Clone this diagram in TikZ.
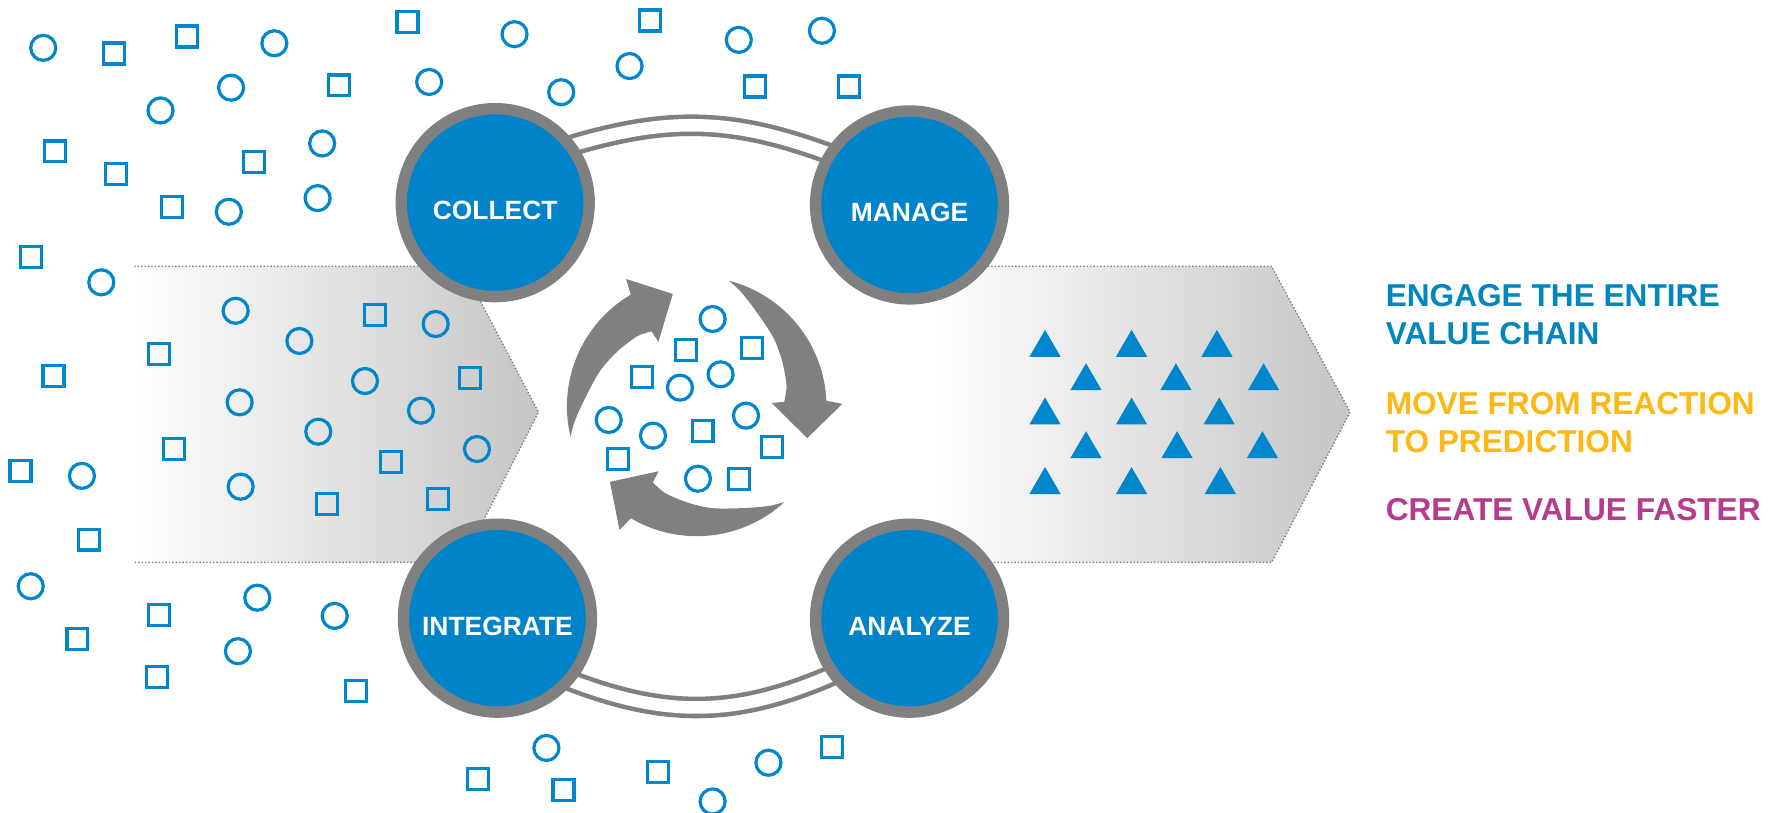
\documentclass[tikz,border=0pt]{standalone}
\usepackage{fontspec}
\setmainfont{Liberation Sans}
\usepackage{tikz}
\usetikzlibrary{shapes.geometric,backgrounds}

\definecolor{ringGray}{RGB}{128,128,128}
\definecolor{stageBlue}{RGB}{0,131,200}
\definecolor{dotBlue}{RGB}{0,134,204}
\definecolor{bandGray}{RGB}{197,197,197}
\definecolor{txtBlue}{RGB}{2,134,190}
\definecolor{txtYellow}{RGB}{253,184,19}
\definecolor{txtMagenta}{RGB}{181,59,142}

\begin{document}
\begin{tikzpicture}[x=0.01cm, y=-0.01cm,
    stage/.style={circle, draw=ringGray, line width=0.1cm, fill=stageBlue, minimum size=1.65cm,
        inner sep=0pt, text height=0.31cm, text depth=0.013cm, text=white,
        font=\fontsize{6.6}{8}\selectfont\bfseries},
    link/.style={draw=ringGray, line width=0.04cm, double=white, double distance=0.11cm,
        shorten <=-0.12cm, shorten >=-0.12cm},
    band/.style={left color=white, right color=bandGray},
    bandEdge/.style={draw=ringGray, line width=0.35pt, dash pattern=on 0.35pt off 0.5pt},
    dot/.style={draw=dotBlue, line width=0.028cm},
    goal/.style={anchor=base west, align=left, inner sep=0pt, font=\fontsize{7.9}{9.6}\selectfont\bfseries},
    cyclearrow/.pic={
        \fill[ringGray, y=0.01cm] (193.6:114) arc[start angle=193.6, end angle=120.5, radius=114]
            -- (119:128) -- (102:101) -- (120.6:66)
            -- plot[smooth] coordinates {(121:77) (131:81) (146:85) (160:90.5) (176:98.5) (187:108) (193.6:114)}
            -- cycle;
    }]
    \useasboundingbox (0,0) rectangle (1568,714);

    % grey bands
    \shade[band] (118,234) -- (406,234) -- (473,362) -- (406,494) -- (118,494) -- cycle;
    \draw[bandEdge] (118,234) -- (406,234) -- (473,362) -- (406,494) -- (118,494);
    \shade[band] (820,234) -- (1117,234) -- (1186,362) -- (1117,494) -- (820,494) -- cycle;
    \draw[bandEdge] (820,234) -- (1117,234) -- (1186,362) -- (1117,494) -- (820,494);

    \node[stage] (collect) at (435,178) {COLLECT};
    \node[stage] (manage) at (799,180) {MANAGE};
    \node[stage] (integrate) at (437,543) {INTEGRATE};
    \node[stage] (analyze) at (799,543) {ANALYZE};

    \begin{scope}[on background layer]
        \draw[link] (collect.36) to[bend left=19] (manage.148);
        \draw[link] (integrate.-40) to[bend right=23] (analyze.216);
    \end{scope}

    % scattered data
    \foreach \x/\y in {38/42, 241/38, 452/30, 649/35, 722/27, 553/58, 493/81, 203/77, 377/72,
        141/97, 283/126, 201/186, 279/174, 89/248, 72/418, 27/515, 226/525, 294/541, 209/572,
        480/657, 675/670, 626/704,
        207/273, 263/299.5, 382.7/284.6, 320.6/334.7, 210.5/353.4, 369.8/360.7, 279.6/379.2,
        419/394.4, 211.4/427.5,
        626/280.2, 597.3/340.5, 633/328.8, 534.7/368.9, 573.6/382.7, 655.3/365.1, 613.1/420.5}
        \draw[dot] (\x,\y) circle[radius=11];
    \foreach \x/\y in {100/47, 164/32, 358/19, 571/18, 663/76, 746/76, 298/75, 48/133, 102/153,
        223/142, 151/182, 27/226, 47/330, 18/414, 78/474, 140/540, 68/561, 138/595, 313/607,
        731/656, 578/678, 420/684, 495/694,
        329.4/276.7, 139.7/310.7, 412.6/331.8, 152.6/394.4, 343.5/405.8, 287.2/443, 384.5/438.3,
        602.3/307.4, 660.6/306, 563.7/330.9, 617.2/378.6, 678.4/392.9, 542.6/403.2, 649.2/421}
        \draw[dot] (\x,\y) ++(-9.2,-9.2) rectangle ++(18.4,18.4);
    \foreach \x/\y in {918/301.6, 994/301.6, 1069/301.6, 954/330.9, 1033/330.9, 1110/330.9,
        918/361, 994/361, 1071/361, 954/390.6, 1034/390.6, 1109/390.6,
        918/422.1, 994/422.1, 1072/422.1}
        \fill[dotBlue] (\x,\y) ++(-13.75,11.85) -- ++(27.5,0) -- ++(-13.75,-23.7) -- cycle;

    \pic at (612,357) {cyclearrow};
    \pic[rotate=-118] at (612,357) {cyclearrow};
    \pic[rotate=119] at (612,357) {cyclearrow};

    % base = last line of each block
    \node[goal, text=txtBlue] (engage) at (1216.6,303) {ENGAGE THE ENTIRE\\VALUE CHAIN};
    \node[goal, text=txtYellow] (predict) at (1216.6,397.6) {MOVE FROM REACTION\\TO PREDICTION};
    \node[goal, text=txtMagenta] (faster) at (1216.6,457.4) {CREATE VALUE FASTER};
\end{tikzpicture}
\end{document}
